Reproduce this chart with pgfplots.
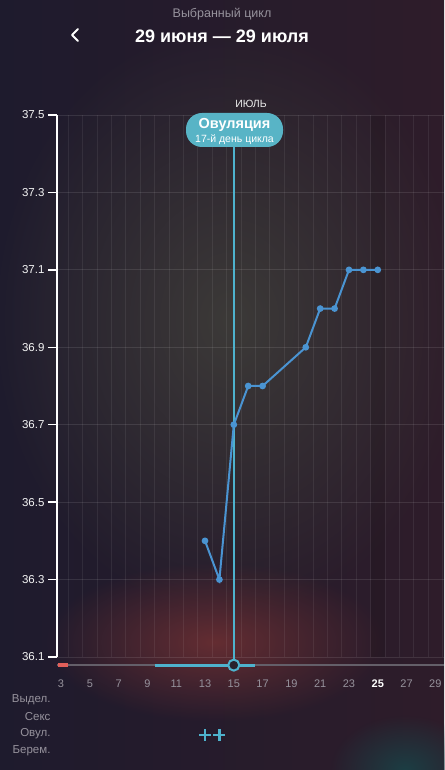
\documentclass[border=0pt]{standalone}
\usepackage{pgfplots}
\pgfplotsset{compat=1.18}
\usepackage{fontspec}
\setmainfont{Liberation Sans}
\usetikzlibrary{fadings}
\tikzfading[name=myglow, inner color=transparent!0, outer color=transparent!100]
\definecolor{bgbase}{RGB}{30,27,45}
\definecolor{bgright}{RGB}{46,28,42}
\definecolor{glowgray}{RGB}{60,58,56}
\definecolor{glowred}{RGB}{100,45,50}
\definecolor{glowteal}{RGB}{28,62,68}
\definecolor{linecol}{RGB}{74,148,210}
\definecolor{ovcol}{RGB}{78,178,205}
\definecolor{bubble}{RGB}{88,180,198}
\definecolor{slidergray}{RGB}{100,95,105}
\definecolor{labgray}{RGB}{150,146,156}
\definecolor{tickred}{RGB}{225,95,90}
\definecolor{darkfill}{RGB}{40,34,45}
\begin{document}
\begin{tikzpicture}[x=1pt,y=1pt]
\useasboundingbox (0,0) rectangle (444,770);
\shade[left color=bgbase, right color=bgright] (0,0) rectangle (444,770);
\fill[glowgray, path fading=myglow] (230,450) ellipse (240 and 300);
\fill[glowred, path fading=myglow] (215,128) ellipse (170 and 80);
\fill[glowteal, path fading=myglow] (405,0) ellipse (75 and 55);
\begin{axis}[
  at={(57pt,113pt)}, anchor=south west,
  scale only axis, width=387pt, height=542pt,
  xmin=2.72, xmax=29.6, ymin=36.1, ymax=37.5,
  clip=false,
  axis lines*=left,
  x axis line style={draw=none},
  y axis line style={white, line width=1.3pt},
  xtick={3,5,...,29},
  xticklabels={3,5,7,9,11,13,15,17,19,21,23,{\bfseries\color{white}25},27,29},
  minor xtick={3.5,4.5,...,29.5},
  ytick={36.1,36.3,36.5,36.7,36.9,37.1,37.3,37.5},
  yticklabels={36.1,36.3,36.5,36.7,36.9,37.1,37.3,37.5},
  xminorgrids, ymajorgrids,
  major grid style={white, opacity=0.10, line width=0.8pt},
  minor grid style={white, opacity=0.07, line width=0.8pt},
  tick align=outside,
  major tick length=9pt, minor tick length=0pt,
  xtick style={draw=none},
  ytick style={white, line width=1.3pt},
  yticklabel style={color=white!92!gray, font=\fontsize{11.5}{13}\selectfont},
  xticklabel style={color=labgray, font=\fontsize{11}{13}\selectfont, anchor=center, yshift=-18pt},
]
% current-day column
\addplot[draw=none, fill=black, fill opacity=0.10] coordinates {(24.5,36.1) (25.5,36.1) (25.5,37.5) (24.5,37.5)} -- cycle;
% slider
\addplot[slidergray, line width=2pt] coordinates {(2.72,36.079) (29.6,36.079)};
\addplot[tickred, line width=4.5pt] coordinates {(2.8,36.079) (3.5,36.079)};
\addplot[ovcol, line width=3pt] coordinates {(9.53,36.079) (16.47,36.079)};
% ovulation line
\addplot[ovcol, line width=1.6pt] coordinates {(15,36.079) (15,37.43)};
\addplot[only marks, mark=*, mark size=5.5pt, mark options={fill=darkfill, draw=ovcol, line width=2pt}] coordinates {(15,36.079)};
% temperature
\addplot[linecol, line width=2pt, mark=*, mark size=2.3pt, mark options={fill=linecol, draw=linecol}] coordinates {
(13,36.4) (14,36.3) (15,36.7) (16,36.8) (17,36.8) (20,36.9) (21,37.0) (22,37.0) (23,37.1) (24,37.1) (25,37.1)};
% ovulation tests
\addplot[only marks, mark=+, mark size=6pt, ovcol, line width=2.8pt] coordinates {(13,35.8985) (14,35.8985)};
\end{axis}
% bubble
\fill[bubble, rounded corners=16pt] (186,623) rectangle (283,657);
\node[white, font=\bfseries\fontsize{14.5}{16}\selectfont] at (234.5,645) {Овуляция};
\node[white, font=\fontsize{10.5}{12}\selectfont] at (234.5,630.5) {17-й день цикла};
\node[color=white!85!gray, font=\fontsize{10.5}{12}\selectfont] at (251,666) {ИЮЛЬ};
% header
\node[color=labgray, font=\fontsize{12.5}{14}\selectfont] at (222,756) {Выбранный цикл};
\node[white, font=\bfseries\fontsize{18}{20}\selectfont] at (222,734) {29 июня — 29 июля};
\draw[white, line width=2pt, line cap=round, line join=round] (78,741) -- (72,735) -- (78,729);
% row labels
\node[anchor=east, color=labgray, font=\fontsize{11.5}{13}\selectfont] at (54,70) {Выдел.};
\node[anchor=east, color=labgray, font=\fontsize{11.5}{13}\selectfont] at (54,53) {Секс};
\node[anchor=east, color=labgray, font=\fontsize{11.5}{13}\selectfont] at (54,36) {Овул.};
\node[anchor=east, color=labgray, font=\fontsize{11.5}{13}\selectfont] at (54,19) {Берем.};
\end{tikzpicture}
\end{document}
